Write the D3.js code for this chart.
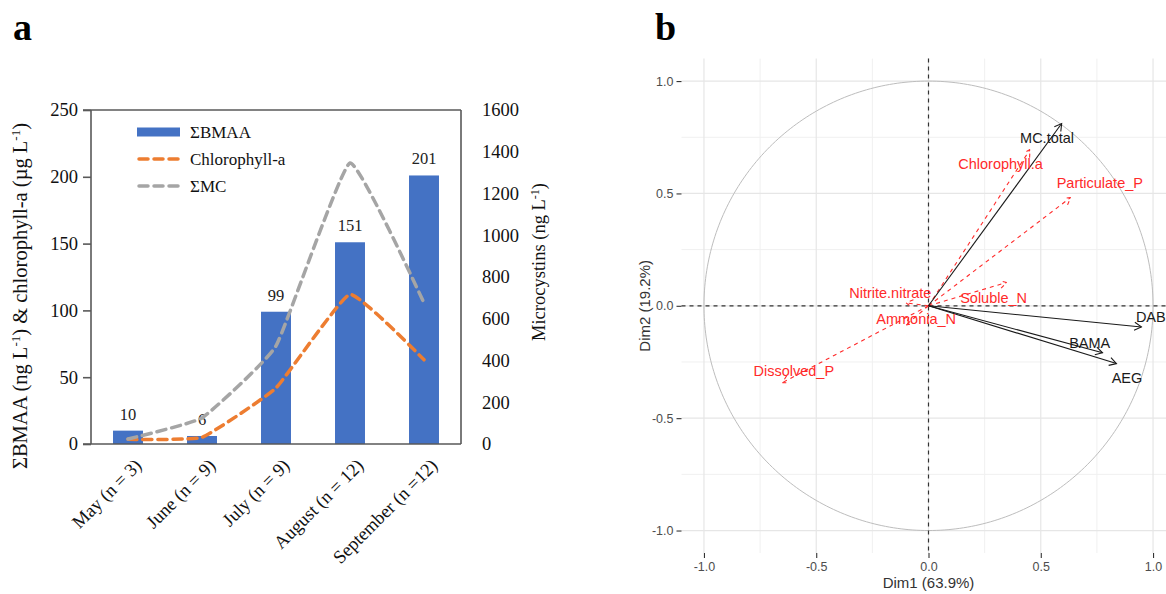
<!DOCTYPE html>
<html>
<head>
<meta charset="utf-8">
<script src="https://cdn.jsdelivr.net/npm/d3@7"></script>
<style>
  html, body { margin: 0; padding: 0; background: #fff; }
  svg { display: block; }
</style>
</head>
<body>
<svg id="chart" width="1166" height="594"></svg>
<script>
// ---------------- Panel a data ----------------
const months = ["May (n = 3)", "June (n = 9)", "July (n = 9)", "August (n = 12)", "September (n =12)"];
const bmaa = [10, 6, 99, 151, 201];            // ng/L (left axis, bars)
const chlorophyll = [3.5, 5, 42, 112, 63];       // µg/L (left axis, orange dashed)
const mcTotal = [24, 125, 470, 1346, 675];       // ng/L (right axis, grey dashed)
const leftTicks = [0, 50, 100, 150, 200, 250];
const rightTicks = [0, 200, 400, 600, 800, 1000, 1200, 1400, 1600];
const legendNames = ["ΣBMAA", "Chlorophyll-a", "ΣMC"];

// ---------------- Panel b data (PCA variable loadings) ----------------
const activeNames = ["MC.total", "DAB", "BAMA", "AEG"];
const activeDim1 = [0.593, 0.948, 0.775, 0.837];
const activeDim2 = [0.811, -0.094, -0.209, -0.257];
const activeLabelDim1 = [0.528, 0.99, 0.718, 0.884];
const activeLabelDim2 = [0.748, -0.049, -0.165, -0.320];

const suppNames = ["Chlorophyll.a", "Particulate_P", "Soluble_N", "Nitrite.nitrate", "Ammonia_N", "Dissolved_P"];
const suppDim1 = [0.452, 0.633, 0.348, -0.10, -0.10, -0.651];
const suppDim2 = [0.695, 0.482, 0.104, 0.013, -0.085, -0.342];
const suppLabelDim1 = [0.321, 0.763, 0.29, -0.17, -0.055, -0.60];
const suppLabelDim2 = [0.633, 0.548, 0.036, 0.058, -0.058, -0.29];

const pcaMajor = [-1, -0.5, 0, 0.5, 1];
const pcaMinor = [-0.75, -0.25, 0.25, 0.75];
const dim1Title = "Dim1 (63.9%)";
const dim2Title = "Dim2 (19.2%)";

const svg = d3.select("#chart");
const serif = "'Palatino Linotype','Book Antiqua','Liberation Serif',serif";
const sans = "'Liberation Sans', Arial, sans-serif";

// =============== PANEL A ===============
const A = { left: 91, right: 461, top: 110, bottom: 444 };
const gA = svg.append("g");

const x = d3.scaleBand().domain(months).range([A.left, A.right]).paddingInner(0.595).paddingOuter(0.2975);
const yL = d3.scaleLinear().domain([0, 250]).range([A.bottom, A.top]);
const yR = d3.scaleLinear().domain([0, 1600]).range([A.bottom, A.top]);
const axisCol = "#595959";

// bars
gA.selectAll("rect.bar").data(bmaa).join("rect")
  .attr("class", "bar")
  .attr("x", (d, i) => x(months[i]))
  .attr("width", x.bandwidth())
  .attr("y", d => yL(d))
  .attr("height", d => yL(0) - yL(d))
  .attr("fill", "#4472C4");

// data labels
gA.selectAll("text.dl").data(bmaa).join("text")
  .attr("class", "dl")
  .attr("x", (d, i) => x(months[i]) + x.bandwidth() / 2)
  .attr("y", d => yL(d) - 11)
  .attr("text-anchor", "middle")
  .attr("font-family", serif).attr("font-size", 16.5).attr("fill", "#222")
  .text(d => d);

// frame
gA.append("line").attr("x1", A.left - 8).attr("x2", A.right).attr("y1", A.top).attr("y2", A.top).attr("stroke", axisCol).attr("stroke-width", 1.6);
gA.append("line").attr("x1", A.right).attr("x2", A.right).attr("y1", A.top).attr("y2", A.bottom).attr("stroke", axisCol).attr("stroke-width", 1.6);
gA.append("line").attr("x1", A.left).attr("x2", A.left).attr("y1", A.top).attr("y2", A.bottom).attr("stroke", axisCol).attr("stroke-width", 1.6);
gA.append("line").attr("x1", A.left - 8).attr("x2", A.right).attr("y1", A.bottom).attr("y2", A.bottom).attr("stroke", axisCol).attr("stroke-width", 1.6);

// left axis
const leftAxis = gA.append("g").attr("transform", `translate(${A.left},0)`)
  .call(d3.axisLeft(yL).tickValues(leftTicks).tickSize(8).tickPadding(5).tickFormat(d3.format("d")));
leftAxis.select(".domain").remove();
leftAxis.selectAll(".tick line").attr("stroke", axisCol).attr("stroke-width", 1.6);
leftAxis.selectAll(".tick text").attr("font-family", serif).attr("font-size", 18.5).attr("fill", "#111");

// right axis
const rightAxis = gA.append("g").attr("transform", `translate(${A.right},0)`)
  .call(d3.axisRight(yR).tickValues(rightTicks).tickSize(0).tickPadding(21).tickFormat(d3.format("d")));
rightAxis.select(".domain").remove();
rightAxis.selectAll(".tick text").attr("font-family", serif).attr("font-size", 18.5).attr("fill", "#111");

// x axis labels (rotated)
const xAxis = gA.append("g").attr("transform", `translate(0,${A.bottom})`)
  .call(d3.axisBottom(x).tickSize(0).tickPadding(0));
xAxis.select(".domain").remove();
xAxis.selectAll(".tick text")
  .attr("font-family", serif).attr("font-size", 18.5).attr("fill", "#111")
  .attr("text-anchor", "end")
  .attr("transform", "translate(10,18) rotate(-45)")
  .attr("dy", "0.35em");

// lines
const curve = d3.curveCardinal.tension(0.65);
const lineL = d3.line().x((d, i) => x(months[i]) + x.bandwidth() / 2).y(d => yL(d)).curve(curve);
const lineR = d3.line().x((d, i) => x(months[i]) + x.bandwidth() / 2).y(d => yR(d)).curve(curve);
gA.append("path").datum(chlorophyll).attr("d", lineL).attr("fill", "none")
  .attr("stroke", "#ED7D31").attr("stroke-width", 3.5).attr("stroke-dasharray", "9,6").attr("stroke-linecap", "round");
gA.append("path").datum(mcTotal).attr("d", lineR).attr("fill", "none")
  .attr("stroke", "#A5A5A5").attr("stroke-width", 3.5).attr("stroke-dasharray", "9,6").attr("stroke-linecap", "round");

// legend
const legColors = ["#4472C4", "#ED7D31", "#A5A5A5"];
const leg = gA.append("g");
legendNames.forEach((name, i) => {
  const cy = 132 + i * 27;
  if (i === 0) {
    leg.append("rect").attr("x", 137).attr("y", cy - 4.5).attr("width", 43).attr("height", 9).attr("fill", legColors[i]);
  } else {
    leg.append("line").attr("x1", 139).attr("x2", 180).attr("y1", cy).attr("y2", cy)
      .attr("stroke", legColors[i]).attr("stroke-width", 3.5).attr("stroke-dasharray", "9,6").attr("stroke-linecap", "round");
  }
  leg.append("text").attr("x", 190).attr("y", cy + 5.5)
    .attr("font-family", serif).attr("font-size", 17).attr("fill", "#111").text(name);
});

// axis titles
const lt = gA.append("text").attr("transform", "translate(27,296) rotate(-90)")
  .attr("text-anchor", "middle").attr("font-family", serif).attr("font-size", 20.5).attr("fill", "#111");
lt.append("tspan").text("ΣBMAA (ng L");
lt.append("tspan").attr("dy", -7).attr("font-size", 13).text("-1");
lt.append("tspan").attr("dy", 7).text(") & chlorophyll-a (µg L");
lt.append("tspan").attr("dy", -7).attr("font-size", 13).text("-1");
lt.append("tspan").attr("dy", 7).text(")");

const rt = gA.append("text").attr("transform", "translate(545,262) rotate(-90)")
  .attr("text-anchor", "middle").attr("font-family", serif).attr("font-size", 18.5).attr("fill", "#111");
rt.append("tspan").text("Microcystins (ng L");
rt.append("tspan").attr("dy", -6).attr("font-size", 12).text("-1");
rt.append("tspan").attr("dy", 6).text(")");

// panel letters
svg.append("text").attr("x", 13).attr("y", 40).attr("font-family", serif).attr("font-weight", "bold")
  .attr("font-size", 38).attr("fill", "#000").text("a");
svg.append("text").attr("x", 655).attr("y", 40).attr("font-family", serif).attr("font-weight", "bold")
  .attr("font-size", 38).attr("fill", "#000").text("b");

// =============== PANEL B ===============
const gB = svg.append("g");
const px = d3.scaleLinear().domain([-1.1, 1.1]).range([681.5, 1175.5]);
const py = d3.scaleLinear().domain([-1.1, 1.1]).range([553, 58.6]);

// grid
pcaMinor.forEach(v => {
  gB.append("line").attr("x1", px(v)).attr("x2", px(v)).attr("y1", py(1.1)).attr("y2", py(-1.1)).attr("stroke", "#f0f0f0").attr("stroke-width", 1);
  gB.append("line").attr("y1", py(v)).attr("y2", py(v)).attr("x1", px(-1.1)).attr("x2", px(1.1)).attr("stroke", "#f0f0f0").attr("stroke-width", 1);
});
pcaMajor.forEach(v => {
  gB.append("line").attr("x1", px(v)).attr("x2", px(v)).attr("y1", py(1.1)).attr("y2", py(-1.1)).attr("stroke", "#e6e6e6").attr("stroke-width", 1.2);
  gB.append("line").attr("y1", py(v)).attr("y2", py(v)).attr("x1", px(-1.1)).attr("x2", px(1.1)).attr("stroke", "#e6e6e6").attr("stroke-width", 1.2);
});

// circle
const circ = d3.range(0, 361).map(a => [Math.cos(a * Math.PI / 180), Math.sin(a * Math.PI / 180)]);
gB.append("path").datum(circ).attr("d", d3.line().x(d => px(d[0])).y(d => py(d[1])))
  .attr("fill", "none").attr("stroke", "#bdbdbd").attr("stroke-width", 1);

// zero dashed lines
gB.append("line").attr("x1", px(0)).attr("x2", px(0)).attr("y1", py(1.1)).attr("y2", py(-1.1))
  .attr("stroke", "#333").attr("stroke-width", 1.2).attr("stroke-dasharray", "4,4");
gB.append("line").attr("y1", py(0)).attr("y2", py(0)).attr("x1", px(-1.1)).attr("x2", px(1.1))
  .attr("stroke", "#333").attr("stroke-width", 1.2).attr("stroke-dasharray", "4,4");

// axes ticks & labels (ASCII hyphen for negatives, as in ggplot)
const fmt = v => d3.format(".1f")(v).replace("\u2212", "-");
const bx = gB.append("g").attr("transform", `translate(0,${py(-1.1)})`)
  .call(d3.axisBottom(px).tickValues(pcaMajor).tickSize(5).tickPadding(4).tickFormat(fmt));
bx.select(".domain").remove();
bx.selectAll(".tick line").attr("stroke", "#333").attr("stroke-width", 1.1);
bx.selectAll(".tick text").attr("font-family", sans).attr("font-size", 12.5).attr("fill", "#4d4d4d");

const by = gB.append("g").attr("transform", `translate(${px(-1.1)},0)`)
  .call(d3.axisLeft(py).tickValues(pcaMajor).tickSize(5).tickPadding(3).tickFormat(fmt));
by.select(".domain").remove();
by.selectAll(".tick line").attr("stroke", "#333").attr("stroke-width", 1.1);
by.selectAll(".tick text").attr("font-family", sans).attr("font-size", 12.5).attr("fill", "#4d4d4d");

gB.append("text").attr("x", px(0)).attr("y", 588).attr("text-anchor", "middle")
  .attr("font-family", sans).attr("font-size", 15).attr("fill", "#333").text(dim1Title);
gB.append("text").attr("transform", `translate(650,${py(0)}) rotate(-90)`).attr("text-anchor", "middle")
  .attr("font-family", sans).attr("font-size", 15).attr("fill", "#333").text(dim2Title);

// arrows
function arrow(g, x1, y1, color, dash) {
  const sx = px(0), sy = py(0), ex = px(x1), ey = py(y1);
  const ang = Math.atan2(ey - sy, ex - sx);
  const L = 8, spread = Math.PI / 6;
  g.append("line").attr("x1", sx).attr("y1", sy).attr("x2", ex).attr("y2", ey)
    .attr("stroke", color).attr("stroke-width", 1.1).attr("stroke-dasharray", dash);
  const hp = `M${ex - L * Math.cos(ang - spread)},${ey - L * Math.sin(ang - spread)} L${ex},${ey} L${ex - L * Math.cos(ang + spread)},${ey - L * Math.sin(ang + spread)}`;
  g.append("path").attr("d", hp).attr("fill", "none").attr("stroke", color).attr("stroke-width", 1.1)
    .attr("stroke-dasharray", dash);
}
suppNames.forEach((n, i) => arrow(gB, suppDim1[i], suppDim2[i], "#ff2a2a", "4,4"));
activeNames.forEach((n, i) => arrow(gB, activeDim1[i], activeDim2[i], "#1a1a1a", null));

gB.selectAll("text.supp").data(suppNames).join("text").attr("class", "supp")
  .attr("x", (d, i) => px(suppLabelDim1[i])).attr("y", (d, i) => py(suppLabelDim2[i]))
  .attr("dy", "0.35em").attr("text-anchor", "middle")
  .attr("font-family", sans).attr("font-size", 14.5).attr("fill", "#ff2a2a").text(d => d);
gB.selectAll("text.act").data(activeNames).join("text").attr("class", "act")
  .attr("x", (d, i) => px(activeLabelDim1[i])).attr("y", (d, i) => py(activeLabelDim2[i]))
  .attr("dy", "0.35em").attr("text-anchor", "middle")
  .attr("font-family", sans).attr("font-size", 14.5).attr("fill", "#1a1a1a").text(d => d);
</script>
</body>
</html>
